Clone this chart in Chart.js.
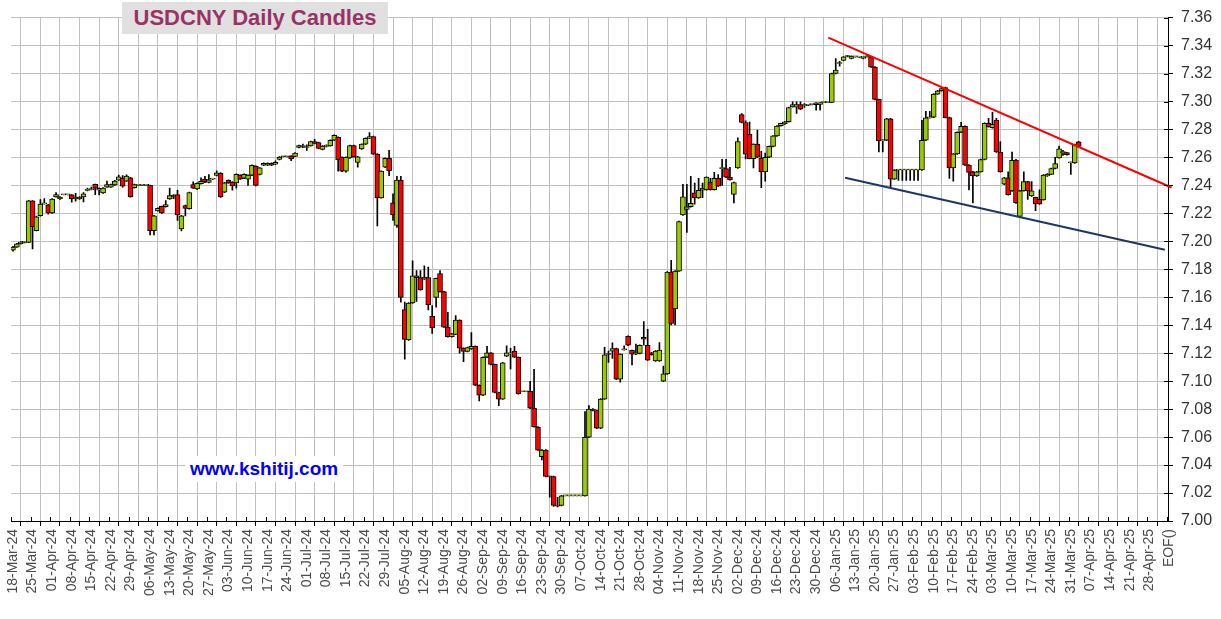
<!DOCTYPE html>
<html><head><meta charset="utf-8">
<script src="https://cdn.jsdelivr.net/npm/chart.js@4.4.1/dist/chart.umd.min.js"></script>
<style>
html,body{margin:0;padding:0;background:#fff;}
#wrap{position:relative;width:1221px;height:619px;overflow:hidden;}
canvas{display:block;}
#title{position:absolute;left:122px;top:2px;width:266px;height:32px;background:#e0e0e0;color:#993366;font:bold 22px "Liberation Sans",Arial,sans-serif;line-height:32px;text-align:center;white-space:nowrap;}
#wm{position:absolute;left:185px;top:456px;padding:2px 5px;background:#fff;color:#0000ff;font:bold 19px "Liberation Sans",Arial,sans-serif;line-height:22px;white-space:nowrap;}
</style></head>
<body><div id="wrap"><canvas id="c" width="1221" height="619"></canvas><div id="title">USDCNY Daily Candles</div><div id="wm">www.kshitij.com</div></div>
<script>
const weekLabels = ["18-Mar-24","25-Mar-24","01-Apr-24","08-Apr-24","15-Apr-24","22-Apr-24","29-Apr-24","06-May-24","13-May-24","20-May-24","27-May-24","03-Jun-24","10-Jun-24","17-Jun-24","24-Jun-24","01-Jul-24","08-Jul-24","15-Jul-24","22-Jul-24","29-Jul-24","05-Aug-24","12-Aug-24","19-Aug-24","26-Aug-24","02-Sep-24","09-Sep-24","16-Sep-24","23-Sep-24","30-Sep-24","07-Oct-24","14-Oct-24","21-Oct-24","28-Oct-24","04-Nov-24","11-Nov-24","18-Nov-24","25-Nov-24","02-Dec-24","09-Dec-24","16-Dec-24","23-Dec-24","30-Dec-24","06-Jan-25","13-Jan-25","20-Jan-25","27-Jan-25","03-Feb-25","10-Feb-25","17-Feb-25","24-Feb-25","03-Mar-25","10-Mar-25","17-Mar-25","24-Mar-25","31-Mar-25","07-Apr-25","14-Apr-25","21-Apr-25","28-Apr-25","EOF()"];
const priceTickLabels = ["7.00","7.02","7.04","7.06","7.08","7.10","7.12","7.14","7.16","7.18","7.20","7.22","7.24","7.26","7.28","7.30","7.32","7.34","7.36"];

const opens = [7.1936,7.1959,7.1983,7.1992,7.1993,7.2289,7.2077,7.2183,7.2268,7.2261,7.2204,7.2317,7.2303,7.2332,7.2332,7.2332,7.2303,7.2303,7.2317,7.2364,
7.2370,7.2407,7.2365,7.2346,7.2388,7.2388,7.2403,7.2438,7.2452,7.2431,7.2454,7.2384,7.2400,7.2400,7.2400,7.2400,7.2077,7.2218,7.2250,7.2247,
7.2303,7.2318,7.2334,7.2089,7.2256,7.2233,7.2405,7.2374,7.2412,7.2445,7.2421,7.2445,7.2471,7.2487,7.2351,7.2436,7.2424,7.2417,7.2473,7.2452,
7.2445,7.2473,7.2537,7.2478,7.2544,7.2544,7.2558,7.2551,7.2586,7.2605,7.2605,7.2610,7.2608,7.2671,7.2678,7.2671,7.2683,7.2714,7.2707,7.2657,
7.2678,7.2683,7.2723,7.2744,7.2601,7.2502,7.2596,7.2685,7.2565,7.2660,7.2695,7.2737,7.2749,7.2624,7.2311,7.2530,7.2594,7.2275,7.2113,7.2438,
7.1512,7.1295,7.1559,7.1754,7.1740,7.1730,7.1740,7.1464,7.1599,7.1770,7.1640,7.1387,7.1318,7.1335,7.1436,7.1236,7.1212,7.1230,7.1249,7.0971,
7.0900,7.1171,7.1202,7.1120,7.0919,7.0872,7.1178,7.1195,7.1216,7.1171,7.0924,7.0924,7.0928,7.0806,7.0672,7.0460,7.0507,7.0318,7.0318,7.0108,
7.0111,7.0180,7.0180,7.0180,7.0180,7.0180,7.0180,7.0599,7.0801,7.0790,7.0664,7.0872,7.1193,7.1215,7.1233,7.1014,7.1224,7.1321,7.1220,7.1193,
7.1198,7.1314,7.1257,7.1203,7.1144,7.1144,7.1000,7.1052,7.1780,7.1516,7.1787,7.2188,7.2228,7.2247,7.2346,7.2310,7.2365,7.2369,7.2424,7.2369,
7.2450,7.2520,7.2520,7.2459,7.2336,7.2525,7.2907,7.2850,7.2766,7.2592,7.2695,7.2596,7.2497,7.2601,7.2679,7.2754,7.2827,7.2839,7.2855,7.2962,
7.2959,7.2978,7.2971,7.2973,7.2978,7.2978,7.2980,7.2992,7.2992,7.2994,7.3200,7.3272,7.3293,7.3322,7.3308,7.3319,7.3317,7.3308,7.3320,7.3319,
7.3246,7.3015,7.2718,7.2723,7.2876,7.2445,7.2510,7.2510,7.2510,7.2510,7.2510,7.2510,7.2510,7.2723,7.2883,7.2888,7.3053,7.3077,7.3100,7.2885,
7.2525,7.2625,7.2780,7.2823,7.2545,7.2497,7.2467,7.2497,7.2585,7.2844,7.2813,7.2868,7.2639,7.2408,7.2455,7.2360,7.2580,7.2179,7.2361,7.2427,
7.2325,7.2314,7.2300,7.2297,7.2467,7.2479,7.2521,7.2597,7.2634,7.2634,7.2561,7.2561,7.2712];

const highs = [7.1965,7.1986,7.1998,7.1996,7.2293,7.2292,7.2180,7.2299,7.2305,7.2265,7.2306,7.2348,7.2320,7.2332,7.2332,7.2335,7.2343,7.2320,7.2348,7.2381,
7.2388,7.2410,7.2382,7.2384,7.2431,7.2410,7.2436,7.2473,7.2471,7.2475,7.2458,7.2410,7.2400,7.2400,7.2400,7.2402,7.2186,7.2240,7.2253,7.2292,
7.2381,7.2334,7.2365,7.2186,7.2260,7.2352,7.2426,7.2418,7.2454,7.2464,7.2478,7.2448,7.2504,7.2492,7.2422,7.2440,7.2427,7.2483,7.2476,7.2483,
7.2476,7.2547,7.2540,7.2528,7.2561,7.2561,7.2561,7.2575,7.2606,7.2607,7.2607,7.2613,7.2634,7.2688,7.2695,7.2690,7.2717,7.2730,7.2710,7.2684,
7.2691,7.2726,7.2761,7.2747,7.2604,7.2604,7.2688,7.2688,7.2608,7.2698,7.2740,7.2777,7.2752,7.2627,7.2505,7.2597,7.2650,7.2340,7.2465,7.2465,
7.1565,7.1562,7.1860,7.1790,7.1790,7.1825,7.1815,7.1540,7.1738,7.1790,7.1643,7.1493,7.1342,7.1469,7.1439,7.1239,7.1243,7.1348,7.1252,7.0974,
7.1174,7.1250,7.1205,7.1123,7.0922,7.1134,7.1253,7.1235,7.1249,7.1174,7.0924,7.0924,7.0999,7.1084,7.0675,7.0510,7.0510,7.0320,7.0321,7.0170,
7.0183,7.0180,7.0180,7.0180,7.0180,7.0180,7.0782,7.0825,7.0804,7.0793,7.0875,7.1242,7.1215,7.1275,7.1236,7.1196,7.1252,7.1324,7.1223,7.1266,
7.1260,7.1427,7.1370,7.1206,7.1218,7.1276,7.1108,7.1783,7.1865,7.1790,7.2144,7.2407,7.2407,7.2464,7.2417,7.2450,7.2417,7.2462,7.2450,7.2494,
7.2478,7.2586,7.2586,7.2530,7.2424,7.2740,7.2914,7.2862,7.2852,7.2698,7.2796,7.2643,7.2631,7.2682,7.2757,7.2828,7.2846,7.2858,7.2960,7.2997,
7.2997,7.2997,7.2985,7.2975,7.2980,7.2993,7.2993,7.2992,7.2992,7.3203,7.3307,7.3288,7.3322,7.3331,7.3327,7.3321,7.3319,7.3320,7.3331,7.3322,
7.3249,7.3018,7.2726,7.2879,7.2879,7.2513,7.2510,7.2510,7.2510,7.2510,7.2510,7.2510,7.2865,7.2930,7.2930,7.3056,7.3080,7.3096,7.3103,7.2888,
7.2628,7.2783,7.2851,7.2826,7.2548,7.2500,7.2500,7.2588,7.2847,7.2879,7.2922,7.2879,7.2714,7.2458,7.2497,7.2639,7.2587,7.2364,7.2497,7.2430,
7.2427,7.2317,7.2368,7.2477,7.2484,7.2524,7.2600,7.2681,7.2651,7.2637,7.2566,7.2696,7.2715];

const lows = [7.1930,7.1956,7.1980,7.1989,7.1990,7.1945,7.2074,7.2180,7.2265,7.2195,7.2200,7.2315,7.2300,7.2332,7.2332,7.2280,7.2287,7.2300,7.2282,7.2360,
7.2368,7.2334,7.2332,7.2343,7.2385,7.2385,7.2400,7.2435,7.2388,7.2428,7.2315,7.2380,7.2400,7.2400,7.2400,7.2046,7.2046,7.2215,7.2200,7.2244,
7.2300,7.2305,7.2150,7.2075,7.2181,7.2230,7.2378,7.2370,7.2409,7.2420,7.2418,7.2442,7.2468,7.2314,7.2348,7.2414,7.2365,7.2380,7.2442,7.2449,
7.2400,7.2470,7.2397,7.2475,7.2541,7.2541,7.2541,7.2548,7.2583,7.2603,7.2603,7.2577,7.2605,7.2668,7.2670,7.2650,7.2680,7.2697,7.2661,7.2654,
7.2675,7.2680,7.2720,7.2502,7.2499,7.2495,7.2593,7.2602,7.2530,7.2657,7.2692,7.2734,7.2621,7.2110,7.2308,7.2527,7.2470,7.2150,7.2100,7.1565,
7.1158,7.1292,7.1556,7.1570,7.1650,7.1727,7.1510,7.1342,7.1530,7.1637,7.1384,7.1315,7.1315,7.1332,7.1200,7.1139,7.1209,7.1227,7.0968,7.0858,
7.0897,7.1168,7.1117,7.0916,7.0825,7.0869,7.1175,7.1088,7.1168,7.0907,7.0924,7.0924,7.0803,7.0671,7.0504,7.0436,7.0315,7.0170,7.0105,7.0100,
7.0108,7.0180,7.0180,7.0180,7.0180,7.0180,7.0177,7.0596,7.0787,7.0661,7.0661,7.0869,7.1134,7.1163,7.1011,7.0993,7.1221,7.1254,7.1116,7.1190,
7.1195,7.1257,7.1148,7.1186,7.1141,7.1141,7.0997,7.1049,7.1403,7.1403,7.1784,7.2185,7.2063,7.2244,7.2266,7.2307,7.2313,7.2366,7.2366,7.2366,
7.2392,7.2400,7.2456,7.2437,7.2275,7.2522,7.2847,7.2590,7.2589,7.2525,7.2598,7.2384,7.2431,7.2598,7.2676,7.2751,7.2824,7.2836,7.2852,7.2959,
7.2914,7.2942,7.2957,7.2971,7.2976,7.2938,7.2938,7.2992,7.2992,7.2991,7.3197,7.3253,7.3290,7.3319,7.3305,7.3317,7.3315,7.3305,7.3317,7.3243,
7.3012,7.2640,7.2640,7.2720,7.2381,7.2442,7.2436,7.2436,7.2436,7.2436,7.2436,7.2436,7.2507,7.2720,7.2880,7.2885,7.3050,7.3074,7.2882,7.2450,
7.2430,7.2622,7.2777,7.2542,7.2368,7.2274,7.2464,7.2494,7.2582,7.2817,7.2810,7.2636,7.2494,7.2405,7.2330,7.2357,7.2271,7.2172,7.2358,7.2300,
7.2322,7.2220,7.2264,7.2294,7.2464,7.2476,7.2518,7.2594,7.2615,7.2617,7.2478,7.2558,7.2676];

const closes = [7.1959,7.1983,7.1995,7.1993,7.2289,7.2105,7.2176,7.2266,7.2270,7.2204,7.2303,7.2334,7.2317,7.2332,7.2332,7.2303,7.2317,7.2317,7.2339,7.2366,
7.2372,7.2381,7.2379,7.2381,7.2405,7.2405,7.2431,7.2461,7.2395,7.2466,7.2317,7.2405,7.2400,7.2400,7.2400,7.2077,7.2183,7.2236,7.2204,7.2263,
7.2327,7.2330,7.2188,7.2183,7.2235,7.2348,7.2381,7.2414,7.2429,7.2424,7.2440,7.2446,7.2490,7.2318,7.2419,7.2417,7.2396,7.2480,7.2445,7.2480,
7.2473,7.2544,7.2400,7.2525,7.2558,7.2558,7.2544,7.2565,7.2603,7.2605,7.2605,7.2589,7.2631,7.2685,7.2679,7.2672,7.2714,7.2700,7.2664,7.2681,
7.2688,7.2723,7.2758,7.2582,7.2502,7.2601,7.2685,7.2605,7.2605,7.2695,7.2737,7.2749,7.2624,7.2311,7.2502,7.2594,7.2506,7.2188,7.2438,7.1599,
7.1299,7.1559,7.1754,7.1740,7.1653,7.1745,7.1547,7.1380,7.1735,7.1640,7.1387,7.1318,7.1339,7.1436,7.1236,7.1212,7.1240,7.1249,7.0971,7.0900,
7.1171,7.1202,7.1120,7.0919,7.0872,7.1131,7.1202,7.1197,7.1171,7.0910,7.0924,7.0924,7.0806,7.0674,7.0507,7.0507,7.0318,7.0316,7.0111,7.0106,
7.0180,7.0180,7.0180,7.0180,7.0180,7.0180,7.0599,7.0801,7.0790,7.0664,7.0872,7.1188,7.1191,7.1233,7.1014,7.1193,7.1225,7.1257,7.1193,7.1207,
7.1257,7.1300,7.1151,7.1189,7.1215,7.1222,7.1052,7.1780,7.1413,7.1787,7.2141,7.2318,7.2247,7.2271,7.2310,7.2365,7.2380,7.2459,7.2369,7.2450,
7.2395,7.2521,7.2459,7.2440,7.2421,7.2714,7.2850,7.2624,7.2592,7.2695,7.2601,7.2497,7.2601,7.2679,7.2754,7.2825,7.2843,7.2855,7.2957,7.2978,
7.2978,7.2945,7.2972,7.2974,7.2979,7.2990,7.2990,7.2992,7.2992,7.3200,7.3225,7.3273,7.3319,7.3323,7.3324,7.3320,7.3318,7.3317,7.3321,7.3246,
7.3015,7.2718,7.2723,7.2876,7.2445,7.2510,7.2510,7.2510,7.2510,7.2510,7.2510,7.2510,7.2723,7.2883,7.2885,7.3053,7.3077,7.3093,7.2885,7.2525,
7.2625,7.2780,7.2823,7.2545,7.2493,7.2467,7.2497,7.2585,7.2844,7.2820,7.2837,7.2639,7.2497,7.2455,7.2333,7.2580,7.2274,7.2361,7.2427,7.2361,
7.2361,7.2267,7.2267,7.2474,7.2481,7.2521,7.2556,7.2662,7.2636,7.2620,7.2563,7.2693,7.2679];

// trend lines: [trading-day index, price]
const resistanceLine = [[208.6, 7.3457], [296.2, 7.2385]];
const supportLine = [[212.9, 7.2455], [294.5, 7.1940]];

const FONT = '"Liberation Sans", Arial, sans-serif';
const n = closes.length;
const wickData = [], bodyData = [], bodyColors = [];
for (let i = 0; i < n; i++) {
  wickData.push({x: i + 0.5, y: [lows[i], highs[i]]});
  bodyData.push({x: i + 0.5, y: [opens[i], closes[i]]});
  bodyColors.push(closes[i] >= opens[i] ? '#99cc00' : '#ff0000');
}
const gridCfg = {color: '#c0c0c0', lineWidth: 1, tickColor: '#000', tickLength: 5};

// small black tick marks crossing the axis lines (inside part)
const crossTicks = {
  id: 'crossTicks',
  afterDatasetsDraw(chart) {
    const ctx = chart.ctx, a = chart.chartArea;
    ctx.save();
    ctx.strokeStyle = '#000';
    ctx.lineWidth = 1;
    ctx.beginPath();
    chart.scales.x.ticks.forEach(t => {
      const px = Math.round(chart.scales.x.getPixelForValue(t.value)) + 0.5;
      ctx.moveTo(px, a.bottom - 4); ctx.lineTo(px, a.bottom);
    });
    chart.scales.y.ticks.forEach(t => {
      const py = Math.round(chart.scales.y.getPixelForValue(t.value)) + 0.5;
      ctx.moveTo(a.right - 4, py); ctx.lineTo(a.right, py);
    });
    ctx.stroke();
    ctx.restore();
  }
};

new Chart(document.getElementById('c'), {
  type: 'bar',
  data: {
    datasets: [
      {type: 'line', data: resistanceLine.map(p => ({x: p[0], y: p[1]})), borderColor: '#ff0000', borderWidth: 2, pointRadius: 0, clip: false, order: 0},
      {type: 'line', data: supportLine.map(p => ({x: p[0], y: p[1]})), borderColor: '#1f3468', borderWidth: 2, pointRadius: 0, clip: false, order: 0},
      {type: 'bar', data: bodyData, backgroundColor: bodyColors, borderColor: '#000', borderWidth: 1, borderSkipped: false, barThickness: 5, grouped: false, minBarLength: 1, order: 1},
      {type: 'bar', data: wickData, backgroundColor: '#000', borderWidth: 0, barThickness: 1, grouped: false, order: 2}
    ]
  },
  plugins: [crossTicks],
  options: {
    responsive: false, animation: false, devicePixelRatio: 1,
    layout: {padding: {left: 11, top: 12, right: 0, bottom: 0}},
    plugins: {legend: {display: false}, tooltip: {enabled: false}},
    scales: {
      x: {
        type: 'linear', min: 0, max: 295.3, offset: false,
        afterBuildTicks: s => { s.ticks = weekLabels.map((_, w) => ({value: w * 5})); },
        afterFit: s => { s.height = 98; },
        grid: gridCfg,
        border: {color: '#000', width: 1},
        ticks: {autoSkip: false, maxRotation: 90, minRotation: 90, color: '#4a4a4a', padding: 3, labelOffset: 2,
          font: {family: FONT, size: 14}, callback: v => weekLabels[Math.round(v / 5)]}
      },
      y: {
        type: 'linear', position: 'right', min: 7.0, max: 7.36,
        afterBuildTicks: s => { s.ticks = priceTickLabels.map(t => ({value: parseFloat(t)})); },
        afterFit: s => { s.width = 53; },
        grid: gridCfg,
        border: {color: '#000', width: 1},
        ticks: {color: '#333', padding: 8, font: {family: FONT, size: 16},
          callback: v => priceTickLabels.find(t => Math.abs(parseFloat(t) - v) < 1e-6) || ''}
      }
    }
  }
});
</script>
</body></html>
